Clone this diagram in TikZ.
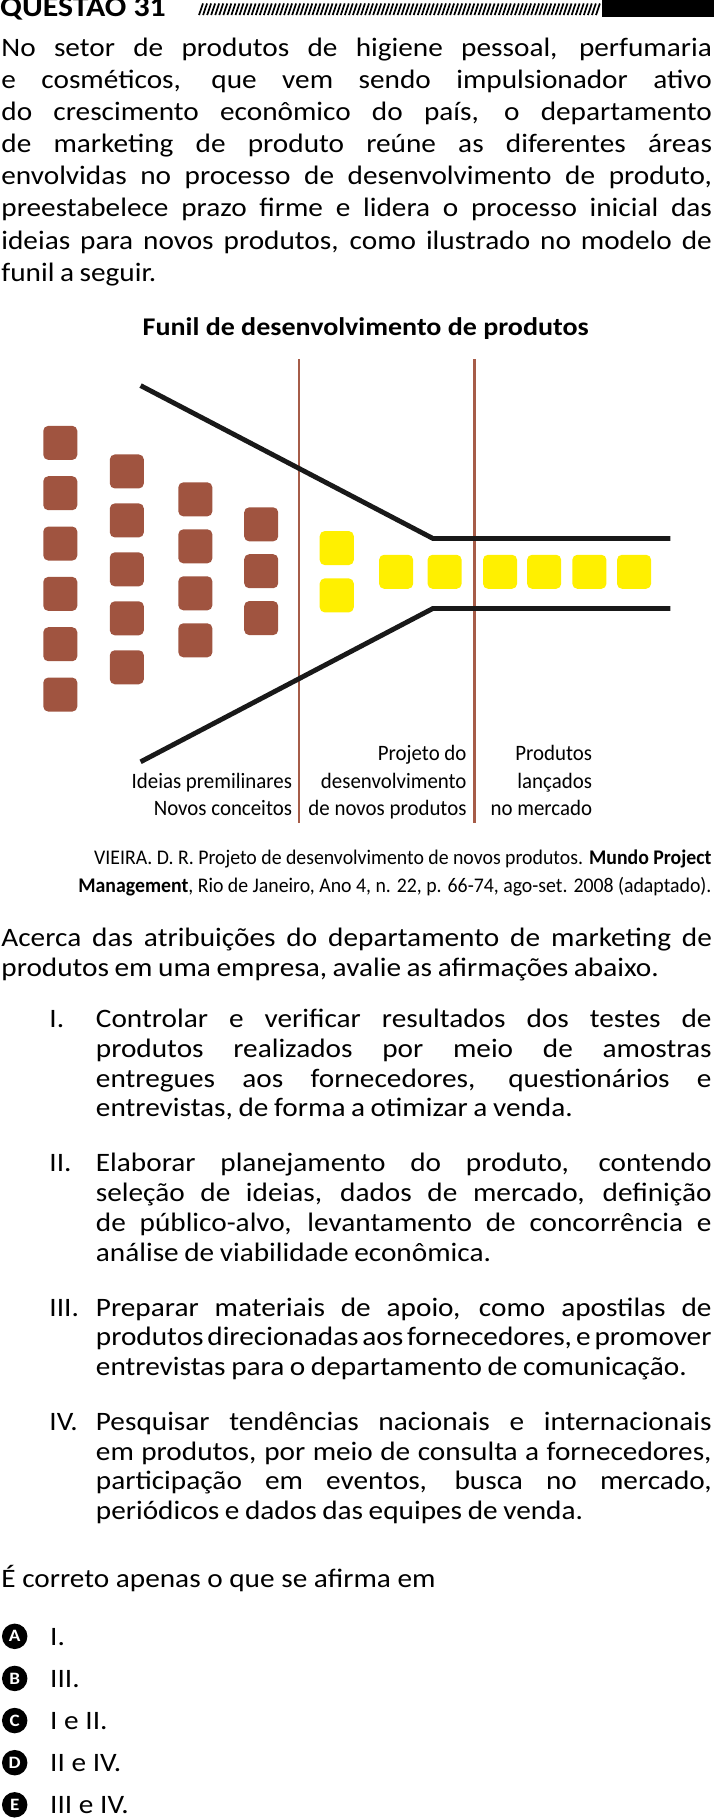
\documentclass[tikz,border=0pt]{standalone}
\usepackage{fontspec}
\setmainfont{Carlito}[FakeStretch=1.10]
\newfontfamily\condfont{Carlito}[FakeStretch=0.95]
\usetikzlibrary{positioning}

\definecolor{marrom}{RGB}{160,84,64}
\definecolor{amarelo}{RGB}{255,240,0}
\definecolor{divisa}{RGB}{166,92,72}

% uma linha justificada de paragrafo
\newcommand\ajuste{\spaceskip=.21em plus .6em minus .17em\relax}
\newcommand\linha[1]{\hbox to \linewidth{\ajuste #1}}
\newcommand\ultima[1]{\hbox{\ajuste #1}}

\begin{document}
\begin{tikzpicture}[x=1pt,y=-1pt]
  % Area da pagina
  \useasboundingbox (0,0) rectangle (617,1571);

  % Estilos
  \tikzset{
    corpo/.style={inner sep=0, anchor=base west, font=\fontsize{23}{25.7}\selectfont},
    ideia/.style={rectangle, rounded corners=4.3pt, fill=marrom,
      minimum size=29.4pt, inner sep=0},
    produto/.style={ideia, fill=amarelo},
    funil/.style={line width=4.2pt, black!90},
    rotulo/.style={inner sep=0, anchor=base east, text width=170pt,
      align=flush right, font=\condfont\fontsize{19}{24}\selectfont},
    letra/.style={circle, fill=black, text=white, inner sep=0,
      minimum size=22pt, font=\bfseries\fontsize{15}{15}\selectfont}
  }

  % Cabecalho
  \node[inner sep=0, anchor=base west, font=\bfseries\fontsize{25}{25}\selectfont]
    (questao) at (0,14.6) {QUESTÃO 31};
  \foreach \x in {172,175.5,...,516}
    \draw[line width=1.5pt] (\x,13) -- (\x+3.4,3);
  \fill[black] (520.4,0) rectangle (617,14.4);

  % Enunciado
  \node[corpo, text width=614pt, font=\fontsize{23}{27.7}\selectfont]
    (texto) at (1,49) {%
    \linha{No setor de produtos de higiene pessoal, perfumaria}
    \linha{e cosméticos, que vem sendo impulsionador ativo}
    \linha{do crescimento econômico do país, o departamento}
    \linha{de marketing de produto reúne as diferentes áreas}
    \linha{envolvidas no processo de desenvolvimento de produto,}
    \linha{preestabelece prazo firme e lidera o processo inicial das}
    \linha{ideias para novos produtos, como ilustrado no modelo de}
    \ultima{funil a seguir.}};

  % Funil
  \node[inner sep=0, anchor=base, font=\bfseries\fontsize{22}{22}\selectfont]
    (titulo) at (316,290) {Funil de desenvolvimento de produtos};

  \draw[divisa, line width=2.2pt] (258.3,310.6) -- (258.3,711.6);
  \draw[divisa, line width=2.2pt] (410.0,310.6) -- (410.0,711.6);

  \draw[funil] (121.5,333.2) -- (374.1,465.3) -- (579.3,465.3);
  \draw[funil] (121.5,658.3) -- (374.1,525.8) -- (579.3,525.8);

  % ideias (colunas marrons)
  \foreach \cx/\cy/\dy/\n [count=\c] in
      {52.1/382.7/43.5/6, 109.6/407.4/42.3/5, 168.8/431.5/40.6/4, 225.7/453.1/40.5/3}
    \foreach \k in {1,...,\n}
      \node[ideia] (i-\c-\k) at (\cx,{\cy+(\k-1)*\dy}) {};

  % produtos (amarelos)
  \node[produto] (p-1) at (291,473.6) {};
  \node[produto] (p-2) at (291,514.5) {};
  \foreach \px [count=\k from 3] in {342.3,384.2,432.1,470.2,509.3,547.9}
    \node[produto] (p-\k) at (\px,494.1) {};

  % Rotulos das fases
  \node[rotulo] (fase1) at (252.5,681) {Ideias premilinares\\Novos conceitos};
  \node[rotulo] (fase2) at (403.3,657) {Projeto do\\desenvolvimento\\de novos produtos};
  \node[rotulo] (fase3) at (511.8,657) {Produtos\\lançados\\no mercado};

  % Fonte
  \node[inner sep=0, anchor=base east, text width=614pt, align=flush right,
    font=\condfont\fontsize{18}{24}\selectfont] (fonte) at (615,747)
    {VIEIRA. D. R. Projeto de desenvolvimento de novos produtos. \textbf{Mundo Project}\\
     \textbf{Management}, Rio de Janeiro, Ano 4, n. 22, p. 66-74, ago-set. 2008 (adaptado).};

  % Comando
  \node[corpo, text width=614pt] (acerca) at (1,818) {%
    \linha{Acerca das atribuições do departamento de marketing de}
    \ultima{produtos em uma empresa, avalie as afirmações abaixo.}};

  % Afirmacoes
  \node[corpo] (n1) at (42.5,888) {I.};
  \node[corpo, text width=532pt] (a1) at (82.7,888) {%
    \linha{Controlar e verificar resultados dos testes de}
    \linha{produtos realizados por meio de amostras}
    \linha{entregues aos fornecedores, questionários e}
    \ultima{entrevistas, de forma a otimizar a venda.}};

  \node[corpo] (n2) at (42.5,1012.6) {II.};
  \node[corpo, text width=532pt] (a2) at (82.7,1012.6) {%
    \linha{Elaborar planejamento do produto, contendo}
    \linha{seleção de ideias, dados de mercado, definição}
    \linha{de público-alvo, levantamento de concorrência e}
    \ultima{análise de viabilidade econômica.}};

  \node[corpo] (n3) at (42.5,1137.2) {III.};
  \node[corpo, text width=532pt] (a3) at (82.7,1137.2) {%
    \linha{Preparar materiais de apoio, como apostilas de}
    \linha{produtos direcionadas aos fornecedores, e promover}
    \ultima{entrevistas para o departamento de comunicação.}};

  \node[corpo] (n4) at (42.5,1236.1) {IV.};
  \node[corpo, text width=532pt] (a4) at (82.7,1236.1) {%
    \linha{Pesquisar tendências nacionais e internacionais}
    \linha{em produtos, por meio de consulta a fornecedores,}
    \linha{participação em eventos, busca no mercado,}
    \ultima{periódicos e dados das equipes de venda.}};

  \node[corpo] (pergunta) at (1,1371.4) {É correto apenas o que se afirma em};

  % Alternativas
  \foreach \l/\t [count=\k from 0] in {A/I., B/III., C/I e II., D/II e IV., E/III e IV.} {
    \node[letra] (op\l) at (12.7,{1414+\k*36.4}) {\l};
    \node[corpo] (resp\l) at (43.2,{1421.8+\k*36.4}) {\t};
  }
\end{tikzpicture}
\end{document}
